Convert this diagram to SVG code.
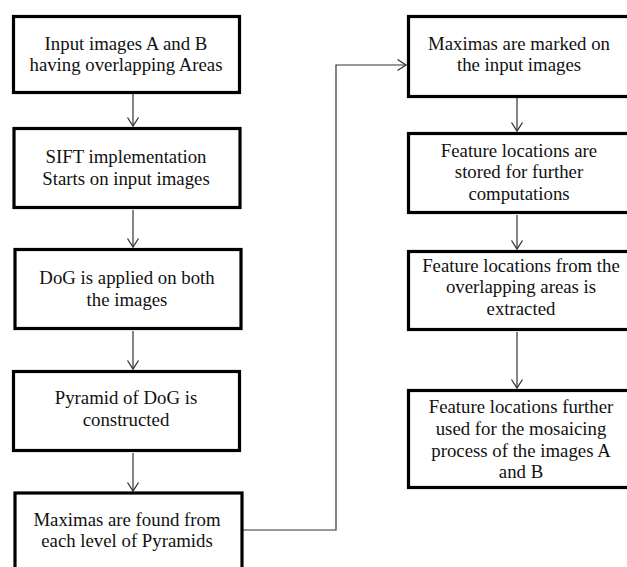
<svg xmlns="http://www.w3.org/2000/svg" width="627" height="567" viewBox="0 0 627 567">
<style>
.box{fill:#fff;stroke:#000;stroke-width:3.2}
.t{font-family:"Liberation Serif","Times New Roman",serif;font-size:18.8px;fill:#111;text-anchor:middle}
.c{fill:none;stroke:#333;stroke-width:1.2}
</style>
<defs>
<marker id="ah" markerUnits="userSpaceOnUse" markerWidth="14" markerHeight="14" viewBox="-10 -7 12 14" refX="0" refY="0" orient="auto">
<path d="M-8.5,-5.5 L0,0 L-8.5,5.5" fill="none" stroke="#333" stroke-width="1.3"/>
</marker>
</defs>
<rect width="627" height="567" fill="#fff"/>
<g id="connectors">
<line class="c" x1="133" y1="94" x2="133" y2="126" marker-end="url(#ah)"/>
<line class="c" x1="133" y1="210" x2="133" y2="247" marker-end="url(#ah)"/>
<line class="c" x1="133" y1="331" x2="133" y2="369" marker-end="url(#ah)"/>
<line class="c" x1="133" y1="453" x2="133" y2="491" marker-end="url(#ah)"/>
<polyline class="c" points="243,530 336,530 336,65 406,65" marker-end="url(#ah)"/>
<line class="c" x1="517" y1="98" x2="517" y2="131" marker-end="url(#ah)"/>
<line class="c" x1="517" y1="215" x2="517" y2="249" marker-end="url(#ah)"/>
<line class="c" x1="517" y1="332" x2="517" y2="388" marker-end="url(#ah)"/>
</g>
<g id="n1"><rect class="box" x="13.5" y="16.5" width="226" height="76"/>
<text class="t" x="126" y="50">Input images A and B</text><text class="t" x="126" y="71">having overlapping Areas</text></g>
<g id="n2"><rect class="box" x="14" y="128.5" width="226" height="79"/>
<text class="t" x="126" y="163">SIFT implementation</text><text class="t" x="126" y="185">Starts on input images</text></g>
<g id="n3"><rect class="box" x="15" y="249.5" width="226" height="79"/>
<text class="t" x="127" y="284">DoG is applied on both</text><text class="t" x="127" y="306">the images</text></g>
<g id="n4"><rect class="box" x="13.5" y="371.5" width="226" height="79"/>
<text class="t" x="126" y="404">Pyramid of DoG is</text><text class="t" x="126" y="426">constructed</text></g>
<g id="n5"><rect class="box" x="15" y="493" width="227" height="90"/>
<text class="t" x="127" y="526">Maximas are found from</text><text class="t" x="127" y="547">each level of Pyramids</text></g>
<g id="n6"><rect class="box" x="408.5" y="16.5" width="230" height="80"/>
<text class="t" x="519" y="50">Maximas are marked on</text><text class="t" x="519" y="71">the input images</text></g>
<g id="n7"><rect class="box" x="408.5" y="133.5" width="230" height="79"/>
<text class="t" x="519" y="157">Feature locations are</text><text class="t" x="519" y="178">stored for further</text><text class="t" x="519" y="200">computations</text></g>
<g id="n8"><rect class="box" x="408.5" y="251.5" width="230" height="78"/>
<text class="t" x="521" y="272">Feature locations from the</text><text class="t" x="521" y="293">overlapping areas is</text><text class="t" x="521" y="315">extracted</text></g>
<g id="n9"><rect class="box" x="408.5" y="390.5" width="230" height="97"/>
<text class="t" x="521" y="413">Feature locations further</text><text class="t" x="521" y="435">used for the mosaicing</text><text class="t" x="521" y="457">process of the images A</text><text class="t" x="521" y="478">and B</text></g>
</svg>
